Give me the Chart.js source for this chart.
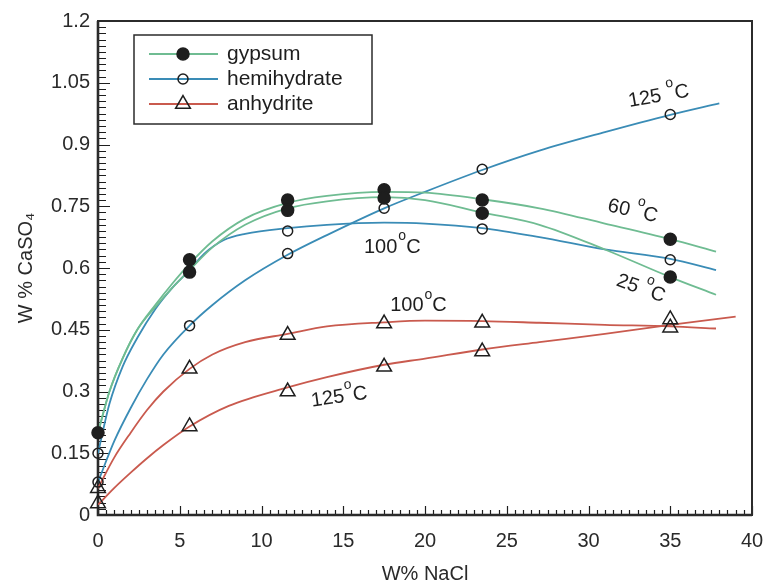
<!DOCTYPE html>
<html lang="en">
<head>
<meta charset="UTF-8">
<title>CaSO4 solubility in NaCl solutions</title>
<script src="https://cdn.jsdelivr.net/npm/chart.js"></script>
<style>
  html, body { margin: 0; padding: 0; background: #fff; }
  #wrap { width: 767px; height: 588px; }
</style>
</head>
<body>
<div id="wrap"><canvas id="chart" width="767" height="588"></canvas></div>
<script>
const gypsumX = [0, 5.6, 5.6, 11.6, 11.6, 17.5, 17.5, 23.5, 23.5, 35, 35];
const gypsumY = [0.2, 0.62, 0.59, 0.765, 0.74, 0.79, 0.77, 0.765, 0.733, 0.67, 0.578];
const hemiX = [0, 0, 5.6, 11.6, 11.6, 17.5, 23.5, 23.5, 35, 35];
const hemiY = [0.15, 0.08, 0.46, 0.69, 0.635, 0.745, 0.84, 0.695, 0.973, 0.62];
const anhyX = [0, 0, 5.6, 5.6, 11.6, 11.6, 17.5, 17.5, 23.5, 23.5, 35, 35];
const anhyY = [0.065, 0.028, 0.355, 0.215, 0.437, 0.3, 0.465, 0.36, 0.467, 0.397, 0.475, 0.455];

// fitted curves
const gyp60X = [0, 0.7, 1.5, 2.4, 3.5, 4.5, 5.6, 7, 9, 11.6, 14, 17.5, 20, 23.5, 27, 31, 35, 37.8];
const gyp60Y = [0.2, 0.3, 0.38, 0.45, 0.51, 0.56, 0.61, 0.665, 0.72, 0.758, 0.775, 0.785, 0.783, 0.767, 0.745, 0.708, 0.67, 0.64];
const gyp25X = [0, 0.7, 1.5, 2.4, 3.5, 4.5, 5.6, 7, 9, 11.6, 14, 17.5, 20, 23.5, 27, 31, 35, 37.8];
const gyp25Y = [0.2, 0.3, 0.38, 0.45, 0.505, 0.55, 0.595, 0.65, 0.705, 0.745, 0.762, 0.772, 0.765, 0.735, 0.705, 0.645, 0.578, 0.535];
const hemi100X = [0, 0.7, 1.5, 2.4, 3.5, 4.5, 5.6, 6.5, 7.7, 9, 11.6, 14, 17.5, 20, 23.5, 27, 31, 35, 37.8];
const hemi100Y = [0.15, 0.27, 0.36, 0.43, 0.5, 0.55, 0.595, 0.635, 0.668, 0.683, 0.697, 0.705, 0.71, 0.708, 0.697, 0.675, 0.645, 0.622, 0.595];
const hemi125X = [0, 1, 2, 3, 4, 5.6, 7, 9, 11.6, 14, 17.5, 20, 23.5, 27, 31, 35, 38];
const hemi125Y = [0.08, 0.18, 0.26, 0.33, 0.39, 0.46, 0.51, 0.57, 0.632, 0.68, 0.745, 0.785, 0.838, 0.885, 0.93, 0.972, 1.0];
const anhy100X = [0, 1, 2, 3, 4, 5.6, 7, 9, 11.6, 14, 17.5, 20, 23.5, 27, 31, 35, 37.8];
const anhy100Y = [0.065, 0.14, 0.2, 0.255, 0.3, 0.355, 0.39, 0.42, 0.44, 0.458, 0.468, 0.472, 0.471, 0.467, 0.462, 0.458, 0.453];
const anhy125X = [0, 1, 2, 3, 4, 5.6, 8, 11.6, 14, 17.5, 20, 23.5, 27, 31, 35, 39];
const anhy125Y = [0.025, 0.066, 0.103, 0.138, 0.17, 0.215, 0.265, 0.31, 0.335, 0.365, 0.38, 0.402, 0.42, 0.44, 0.462, 0.482];

const xTicks = [0, 5, 10, 15, 20, 25, 30, 35, 40];
const yTicks = [0, 0.15, 0.3, 0.45, 0.6, 0.75, 0.9, 1.05, 1.2];
const seriesNames = ['gypsum', 'hemihydrate', 'anhydrite'];

const GREEN = '#6fbc92';
const BLUE = '#3a8cb6';
const RED = '#c95a4e';
const INK = '#1e1e1e';
const FONT = '"Liberation Sans", Arial, sans-serif';

const pts = (xs, ys) => xs.map((x, i) => ({ x: x, y: ys[i] }));

function curve(xs, ys, color) {
    return {
        type: 'line',
        data: pts(xs, ys),
        borderColor: color,
        borderWidth: 1.8,
        pointRadius: 0,
        fill: false,
        cubicInterpolationMode: 'monotone',
        order: 2
    };
}

function markers(xs, ys, style, radius, filled) {
    return {
        type: 'scatter',
        data: pts(xs, ys),
        pointStyle: style,
        pointRadius: radius,
        pointBorderWidth: 1.5,
        pointBorderColor: INK,
        pointBackgroundColor: filled ? INK : 'rgba(0,0,0,0)',
        showLine: false,
        clip: false,
        order: 1
    };
}

// temperature labels, placed in data units
const tempLabels = [
    { x: 34.3, y: 1.017, rot: -10, num: '125', gap: 6 },
    { x: 32.7, y: 0.738, rot: 13, num: '60', gap: 6 },
    { x: 33.2, y: 0.55, rot: 20, num: '25', gap: 6 },
    { x: 18.0, y: 0.651, rot: 0, num: '100', gap: 1 },
    { x: 19.6, y: 0.508, rot: 0, num: '100', gap: 1 },
    { x: 14.75, y: 0.286, rot: -8, num: '125', gap: 1 }
];

function drawTemp(ctx, cx, cy, rot, num, gap) {
    ctx.save();
    ctx.translate(cx, cy);
    ctx.rotate(rot * Math.PI / 180);
    ctx.fillStyle = INK;
    ctx.textBaseline = 'middle';
    ctx.textAlign = 'left';
    ctx.font = '20px ' + FONT;
    const wNum = ctx.measureText(num).width;
    const wC = ctx.measureText('C').width;
    ctx.font = '14px ' + FONT;
    const wO = ctx.measureText('o').width;
    const total = wNum + gap + wO + wC;
    let x = -total / 2;
    ctx.font = '20px ' + FONT;
    ctx.fillText(num, x, 0);
    x += wNum + gap;
    ctx.font = '14px ' + FONT;
    ctx.fillText('o', x, -11);
    x += wO;
    ctx.font = '20px ' + FONT;
    ctx.fillText('C', x, 0);
    ctx.restore();
}

function drawMarker(ctx, style, x, y, r, filled) {
    ctx.beginPath();
    if (style === 'triangle') {
        let rad = 0;
        ctx.moveTo(x + Math.sin(rad) * r, y - Math.cos(rad) * r);
        rad += 2 * Math.PI / 3;
        ctx.lineTo(x + Math.sin(rad) * r, y - Math.cos(rad) * r);
        rad += 2 * Math.PI / 3;
        ctx.lineTo(x + Math.sin(rad) * r, y - Math.cos(rad) * r);
        ctx.closePath();
    } else {
        ctx.arc(x, y, r, 0, Math.PI * 2);
    }
    if (filled) { ctx.fillStyle = INK; ctx.fill(); }
    ctx.strokeStyle = INK;
    ctx.lineWidth = 1.5;
    ctx.stroke();
}

const frameAndTicks = {
    id: 'frameAndTicks',
    beforeDatasetsDraw(chart) {
        const { ctx, chartArea: a, scales: { x, y } } = chart;
        ctx.save();
        ctx.strokeStyle = INK;
        ctx.lineWidth = 1.2;
        ctx.beginPath();
        // minor ticks every 0.5 on x, every 0.015 on y, pointing inward
        for (let i = 0; i <= 80; i++) {
            const px = Math.round(x.getPixelForValue(i * 0.5)) + 0.5;
            const len = i % 10 === 0 ? 9 : 5;
            ctx.moveTo(px, a.bottom);
            ctx.lineTo(px, a.bottom - len);
        }
        for (let i = 0; i <= 80; i++) {
            const py = Math.round(y.getPixelForValue(i * 0.015)) + 0.5;
            const len = i % 10 === 0 ? 12 : 8;
            ctx.moveTo(a.left, py);
            ctx.lineTo(a.left + len, py);
        }
        ctx.stroke();
        ctx.lineWidth = 2;
        ctx.strokeStyle = '#2b2b2b';
        ctx.strokeRect(a.left, a.top, a.right - a.left, a.bottom - a.top);
        ctx.lineWidth = 2.6;
        ctx.beginPath();
        ctx.moveTo(a.left, a.top);
        ctx.lineTo(a.left, a.bottom);
        ctx.lineTo(a.right, a.bottom);
        ctx.stroke();
        ctx.restore();
    },
    afterDraw(chart) {
        const { ctx, scales: { x, y } } = chart;
        ctx.save();
        tempLabels.forEach(l => drawTemp(ctx, x.getPixelForValue(l.x), y.getPixelForValue(l.y), l.rot, l.num, l.gap));

        // legend box
        const colors = [GREEN, BLUE, RED];
        const styles = [['circle', 6, true], ['circle', 5, false], ['triangle', 8.5, false]];
        const left = 134, top = 35, right = 372, bottom = 124;
        ctx.fillStyle = '#fff';
        ctx.fillRect(left, top, right - left, bottom - top);
        ctx.strokeStyle = '#2b2b2b';
        ctx.lineWidth = 1.5;
        ctx.strokeRect(left, top, right - left, bottom - top);
        ctx.font = '21px ' + FONT;
        ctx.textBaseline = 'middle';
        ctx.textAlign = 'left';
        seriesNames.forEach((name, i) => {
            const ry = 54 + i * 25;
            ctx.strokeStyle = colors[i];
            ctx.lineWidth = 1.8;
            ctx.beginPath();
            ctx.moveTo(149, ry);
            ctx.lineTo(218, ry);
            ctx.stroke();
            drawMarker(ctx, styles[i][0], 183, ry, styles[i][1], styles[i][2]);
            ctx.fillStyle = INK;
            ctx.fillText(name, 227, ry);
        });
        ctx.restore();
    }
};

new Chart(document.getElementById('chart'), {
    type: 'scatter',
    data: {
        datasets: [
            markers(gypsumX, gypsumY, 'circle', 6, true),
            markers(hemiX, hemiY, 'circle', 5, false),
            markers(anhyX, anhyY, 'triangle', 8.5, false),
            curve(gyp60X, gyp60Y, GREEN),
            curve(gyp25X, gyp25Y, GREEN),
            curve(hemi100X, hemi100Y, BLUE),
            curve(hemi125X, hemi125Y, BLUE),
            curve(anhy100X, anhy100Y, RED),
            curve(anhy125X, anhy125Y, RED)
        ]
    },
    options: {
        responsive: false,
        animation: false,
        devicePixelRatio: 1,
        layout: { padding: { top: 21, right: 15, left: 0, bottom: 0 } },
        plugins: { legend: { display: false }, tooltip: { enabled: false } },
        scales: {
            x: {
                type: 'linear',
                min: 0, max: 40,
                afterBuildTicks: s => { s.ticks = xTicks.map(v => ({ value: v })); },
                afterFit: s => { s.height = 73; s.paddingLeft = 0; s.paddingRight = 0; },
                grid: { display: false, drawTicks: false },
                border: { display: false },
                ticks: { color: '#2a2a2a', font: { size: 20, family: FONT }, padding: 14, maxRotation: 0 },
                title: { display: true, text: 'W% NaCl', color: '#2a2a2a', font: { size: 20, family: FONT }, padding: { bottom: 2 } }
            },
            y: {
                type: 'linear',
                min: 0, max: 1.2,
                afterBuildTicks: s => { s.ticks = yTicks.map(v => ({ value: v })); },
                afterFit: s => { s.width = 98; s.paddingTop = 0; s.paddingBottom = 0; },
                grid: { display: false, drawTicks: false },
                border: { display: false },
                ticks: { color: '#2a2a2a', font: { size: 20, family: FONT }, padding: 8, callback: v => String(v) },
                title: { display: true, text: 'W % CaSO₄', color: '#2a2a2a', font: { size: 20, family: FONT }, padding: { top: 14 } }
            }
        }
    },
    plugins: [frameAndTicks]
});
</script>
</body>
</html>
